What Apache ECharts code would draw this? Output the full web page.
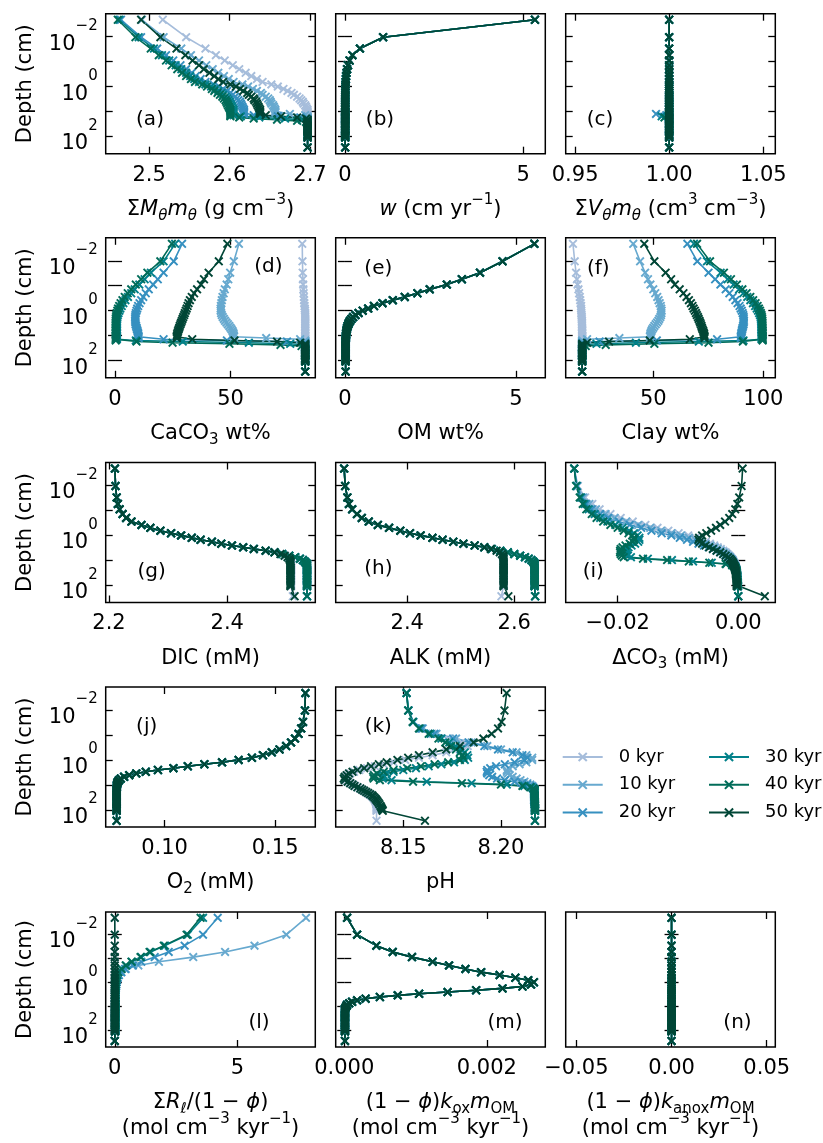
<!DOCTYPE html>
<html>
<head>
<meta charset="utf-8">
<script src="https://cdn.jsdelivr.net/npm/echarts@6/dist/echarts.min.js"></script>
<style>
html, body { margin: 0; padding: 0; background: #fff; }
#chart { width: 823px; height: 1143px; }
</style>
</head>
<body>
<div id="chart"></div>
<script>
// Depth grid of the sediment column (cm)
const DEPTH = [
  0.0021, 0.0105, 0.03, 0.055, 0.09, 0.14, 0.2, 0.28, 0.38, 0.5,
  0.65, 0.82, 1.0, 1.25, 1.5, 1.8, 2.15, 2.55, 3.0, 3.5,
  4.1, 4.8, 5.6, 6.5, 7.5, 8.6, 9.8, 11.1, 12.5, 14,
  15.6, 17.3, 19.2, 21.3, 23.6, 26.1, 29, 32.5, 36.5, 41,
  46, 52, 60, 70, 80, 90, 100, 110, 275];

const TIMES = ['0 kyr', '10 kyr', '20 kyr', '30 kyr', '40 kyr', '50 kyr'];
const COLORS = ['#a6bddb', '#67a9cf', '#3690c0', '#02818a', '#016c59', '#014636'];

// (a) bulk solid density, g cm-3
const RHO_0 = [
  2.517, 2.546, 2.570, 2.583, 2.594, 2.604, 2.612, 2.620, 2.627, 2.634,
  2.641, 2.652, 2.660, 2.667, 2.672, 2.677, 2.680, 2.684, 2.687, 2.689,
  2.691, 2.692, 2.694, 2.695, 2.696, 2.697, 2.697, 2.697, 2.697, 2.697,
  2.697, 2.697, 2.697, 2.697, 2.697, 2.697, 2.697, 2.697, 2.697, 2.697,
  2.697, 2.697, 2.697, 2.697, 2.697, 2.697, 2.697, 2.697, 2.697];
const RHO_10 = [
  2.491, 2.518, 2.540, 2.552, 2.562, 2.571, 2.579, 2.586, 2.593, 2.599,
  2.605, 2.616, 2.623, 2.629, 2.634, 2.639, 2.641, 2.645, 2.648, 2.650,
  2.651, 2.652, 2.654, 2.655, 2.656, 2.657, 2.657, 2.657, 2.675, 2.694,
  2.697, 2.697, 2.697, 2.697, 2.697, 2.697, 2.697, 2.697, 2.697, 2.697,
  2.697, 2.697, 2.697, 2.697, 2.697, 2.697, 2.697, 2.697, 2.697];
const RHO_20 = [
  2.465, 2.490, 2.510, 2.521, 2.530, 2.539, 2.546, 2.553, 2.558, 2.564,
  2.570, 2.580, 2.587, 2.592, 2.597, 2.601, 2.604, 2.607, 2.609, 2.611,
  2.613, 2.614, 2.615, 2.616, 2.617, 2.618, 2.618, 2.618, 2.618, 2.630,
  2.660, 2.688, 2.697, 2.697, 2.697, 2.697, 2.697, 2.697, 2.697, 2.697,
  2.697, 2.697, 2.697, 2.697, 2.697, 2.697, 2.697, 2.697, 2.697];
const RHO_30 = [
  2.463, 2.487, 2.506, 2.516, 2.525, 2.533, 2.540, 2.546, 2.551, 2.556,
  2.562, 2.570, 2.577, 2.582, 2.586, 2.590, 2.592, 2.595, 2.597, 2.599,
  2.600, 2.601, 2.602, 2.603, 2.604, 2.605, 2.605, 2.605, 2.605, 2.605,
  2.614, 2.637, 2.669, 2.690, 2.697, 2.697, 2.697, 2.697, 2.697, 2.697,
  2.697, 2.697, 2.697, 2.697, 2.697, 2.697, 2.697, 2.697, 2.697];
const RHO_40 = [
  2.461, 2.483, 2.502, 2.512, 2.521, 2.528, 2.535, 2.541, 2.546, 2.552,
  2.557, 2.566, 2.572, 2.578, 2.581, 2.585, 2.588, 2.591, 2.593, 2.595,
  2.596, 2.597, 2.598, 2.599, 2.600, 2.601, 2.601, 2.601, 2.601, 2.601,
  2.601, 2.612, 2.630, 2.659, 2.684, 2.695, 2.697, 2.697, 2.697, 2.697,
  2.697, 2.697, 2.697, 2.697, 2.697, 2.697, 2.697, 2.697, 2.697];
const RHO_50 = [
  2.490, 2.514, 2.534, 2.545, 2.554, 2.562, 2.568, 2.575, 2.581, 2.586,
  2.592, 2.601, 2.608, 2.613, 2.617, 2.622, 2.624, 2.627, 2.630, 2.631,
  2.633, 2.634, 2.635, 2.636, 2.637, 2.638, 2.638, 2.638, 2.638, 2.645,
  2.664, 2.684, 2.695, 2.697, 2.697, 2.697, 2.697, 2.697, 2.697, 2.697,
  2.697, 2.697, 2.697, 2.697, 2.697, 2.697, 2.697, 2.697, 2.697];

// (b) burial velocity, cm yr-1 (same at every time slice)
const BURIAL_W = [
  5.33, 1.07, 0.42, 0.21, 0.13, 0.085, 0.06, 0.043, 0.032, 0.025,
  0.02, 0.016, 0.014, 0.012, 0.011, 0.01, 0.009, 0.008, 0.008, 0.008,
  0.008, 0.008, 0.008, 0.008, 0.008, 0.008, 0.008, 0.008, 0.008, 0.008,
  0.007, 0.007, 0.007, 0.007, 0.007, 0.007, 0.007, 0.007, 0.007, 0.007,
  0.007, 0.007, 0.007, 0.007, 0.007, 0.007, 0.007, 0.007, 0.007];

// (c) total solid volume fraction
const VOL_BASE = [
  1, 1, 1, 1, 1, 1, 1, 1, 1, 1,
  1, 1, 1, 1, 1, 1, 1, 1, 1, 1,
  1, 1, 1, 1, 1, 1, 1, 1, 1, 1,
  1, 1, 1, 1, 1, 1, 1, 1, 1, 1,
  1, 1, 1, 1, 1, 1, 1, 1, 1];
const VOL_20 = [
  1, 1, 1, 1, 1, 1, 1, 1, 1, 1,
  1, 1, 1, 1, 1, 1, 1, 1, 1, 1,
  1, 1, 1, 1, 1, 1, 1, 1, 0.993, 0.9985,
  1, 1, 1, 1, 1, 1, 1, 1, 1, 1,
  1, 1, 1, 1, 1, 1, 1, 1, 1];
const VOL_30 = [
  1, 1, 1, 1, 1, 1, 1, 1, 1, 1,
  1, 1, 1, 1, 1, 1, 1, 1, 1, 1,
  1, 1, 1, 1, 1, 1, 1, 1, 1, 1,
  0.996, 1, 1, 1, 1, 1, 1, 1, 1, 1,
  1, 1, 1, 1, 1, 1, 1, 1, 1];
const VOL_40 = [
  1, 1, 1, 1, 1, 1, 1, 1, 1, 1,
  1, 1, 1, 1, 1, 1, 1, 1, 1, 1,
  1, 1, 1, 1, 1, 1, 1, 1, 1, 1,
  1, 0.9975, 1, 1, 1, 1, 1, 1, 1, 1,
  1, 1, 1, 1, 1, 1, 1, 1, 1];

// (d) CaCO3 wt%
const CACO3_0 = [
  81.0, 81.1, 81.2, 81.3, 81.4, 81.5, 81.6, 81.7, 81.8, 81.9,
  82.0, 82.1, 82.2, 82.3, 82.3, 82.3, 82.3, 82.3, 82.3, 82.3,
  82.3, 82.3, 82.3, 82.3, 82.3, 82.3, 82.3, 82.3, 82.3, 82.3,
  82.3, 82.3, 82.3, 82.3, 82.3, 82.3, 82.3, 82.3, 82.3, 82.3,
  82.3, 82.3, 82.3, 82.3, 82.3, 82.3, 82.3, 82.3, 82.3];
const CACO3_10 = [
  53.6, 51.4, 49.8, 49.0, 48.3, 47.5, 47.0, 46.5, 46.2, 46.0,
  45.8, 45.7, 45.7, 45.9, 46.2, 46.6, 47.1, 47.6, 48.2, 48.8,
  49.4, 49.9, 50.4, 50.8, 51.1, 51.3, 51.4, 51.5, 65.4, 80.1,
  82.3, 82.3, 82.3, 82.3, 82.3, 82.3, 82.3, 82.3, 82.3, 82.3,
  82.3, 82.3, 82.3, 82.3, 82.3, 82.3, 82.3, 82.3, 82.3];
const CACO3_20 = [
  29.0, 25.4, 21.0, 18.5, 16.5, 14.6, 13.3, 12.2, 11.3, 10.6,
  10.0, 9.6, 9.3, 9.0, 8.8, 8.7, 8.7, 8.7, 8.8, 8.9,
  9.1, 9.3, 9.5, 9.7, 9.9, 10.0, 10.1, 10.2, 10.2, 21.0,
  48.4, 74.4, 82.3, 82.3, 82.3, 82.3, 82.3, 82.3, 82.3, 82.3,
  82.3, 82.3, 82.3, 82.3, 82.3, 82.3, 82.3, 82.3, 82.3];
const CACO3_30 = [
  26.0, 21.0, 15.5, 12.8, 10.5, 8.5, 7.0, 5.6, 4.5, 3.6,
  2.9, 2.3, 1.9, 1.5, 1.2, 1.0, 0.9, 0.8, 0.8, 0.8,
  0.8, 0.8, 0.8, 0.8, 0.8, 0.8, 0.8, 0.8, 0.8, 0.8,
  9.0, 29.3, 57.9, 75.8, 82.3, 82.3, 82.3, 82.3, 82.3, 82.3,
  82.3, 82.3, 82.3, 82.3, 82.3, 82.3, 82.3, 82.3, 82.3];
const CACO3_40 = [
  24.6, 19.6, 14.0, 11.3, 9.0, 7.0, 5.5, 4.2, 3.2, 2.4,
  1.8, 1.3, 1.0, 0.7, 0.5, 0.4, 0.3, 0.3, 0.3, 0.3,
  0.3, 0.3, 0.3, 0.3, 0.3, 0.3, 0.3, 0.3, 0.3, 0.3,
  0.3, 9.3, 24.9, 49.5, 71.6, 80.7, 82.3, 82.3, 82.3, 82.3,
  82.3, 82.3, 82.3, 82.3, 82.3, 82.3, 82.3, 82.3, 82.3];
const CACO3_50 = [
  48.6, 44.9, 40.5, 38.5, 37.2, 35.5, 34.2, 33.2, 32.4, 31.8,
  31.4, 31.0, 30.6, 30.2, 29.9, 29.5, 29.2, 28.9, 28.6, 28.3,
  28.0, 27.8, 27.5, 27.3, 27.1, 26.9, 26.8, 26.7, 26.7, 33.4,
  51.7, 70.1, 80.1, 82.3, 82.3, 82.3, 82.3, 82.3, 82.3, 82.3,
  82.3, 82.3, 82.3, 82.3, 82.3, 82.3, 82.3, 82.3, 82.3];

// (e) organic matter wt% (same at every time slice)
const OM_WT = [
  5.54, 4.61, 3.95, 3.42, 2.98, 2.48, 2.12, 1.75, 1.40, 1.10,
  0.85, 0.68, 0.52, 0.40, 0.31, 0.24, 0.19, 0.15, 0.12, 0.10,
  0.08, 0.065, 0.055, 0.045, 0.04, 0.035, 0.03, 0.03, 0.025, 0.02,
  0.02, 0.02, 0.02, 0.02, 0.02, 0.02, 0.02, 0.02, 0.02, 0.02,
  0.02, 0.02, 0.02, 0.02, 0.02, 0.02, 0.02, 0.02, 0.02];

// (f) clay wt%
const CLAY_0 = [
  13.5, 14.3, 14.9, 15.3, 15.6, 16.0, 16.3, 16.6, 16.8, 17.0,
  17.2, 17.2, 17.3, 17.3, 17.4, 17.5, 17.5, 17.6, 17.6, 17.6,
  17.6, 17.6, 17.7, 17.7, 17.7, 17.7, 17.7, 17.7, 17.7, 17.7,
  17.7, 17.7, 17.7, 17.7, 17.7, 17.7, 17.7, 17.7, 17.7, 17.7,
  17.7, 17.7, 17.7, 17.7, 17.7, 17.7, 17.7, 17.7, 17.7];
const CLAY_10 = [
  40.9, 44.0, 46.3, 47.6, 48.7, 50.0, 50.9, 51.8, 52.4, 52.9,
  53.4, 53.6, 53.8, 53.7, 53.5, 53.2, 52.7, 52.3, 51.7, 51.1,
  50.5, 50.0, 49.5, 49.2, 48.9, 48.7, 48.6, 48.5, 34.6, 19.9,
  17.7, 17.7, 17.7, 17.7, 17.7, 17.7, 17.7, 17.7, 17.7, 17.7,
  17.7, 17.7, 17.7, 17.7, 17.7, 17.7, 17.7, 17.7, 17.7];
const CLAY_20 = [
  65.5, 70.0, 75.1, 78.1, 80.5, 82.9, 84.6, 86.1, 87.3, 88.3,
  89.2, 89.7, 90.2, 90.6, 90.9, 91.1, 91.1, 91.2, 91.1, 91.0,
  90.8, 90.6, 90.4, 90.3, 90.1, 90.0, 89.9, 89.8, 89.8, 79.0,
  51.6, 25.6, 17.7, 17.7, 17.7, 17.7, 17.7, 17.7, 17.7, 17.7,
  17.7, 17.7, 17.7, 17.7, 17.7, 17.7, 17.7, 17.7, 17.7];
const CLAY_30 = [
  68.5, 74.4, 80.6, 83.8, 86.5, 89.0, 90.9, 92.7, 94.1, 95.3,
  96.3, 97.0, 97.6, 98.1, 98.5, 98.8, 98.9, 99.0, 99.1, 99.1,
  99.1, 99.1, 99.1, 99.2, 99.2, 99.2, 99.2, 99.2, 99.2, 99.2,
  91.0, 70.7, 42.1, 24.2, 17.7, 17.7, 17.7, 17.7, 17.7, 17.7,
  17.7, 17.7, 17.7, 17.7, 17.7, 17.7, 17.7, 17.7, 17.7];
const CLAY_40 = [
  69.9, 75.8, 82.1, 85.3, 88.0, 90.5, 92.4, 94.1, 95.4, 96.5,
  97.4, 98.0, 98.5, 98.9, 99.2, 99.4, 99.5, 99.6, 99.6, 99.6,
  99.6, 99.6, 99.6, 99.7, 99.7, 99.7, 99.7, 99.7, 99.7, 99.7,
  99.7, 90.7, 75.1, 50.5, 28.4, 19.3, 17.7, 17.7, 17.7, 17.7,
  17.7, 17.7, 17.7, 17.7, 17.7, 17.7, 17.7, 17.7, 17.7];
const CLAY_50 = [
  45.9, 50.5, 55.6, 58.1, 59.8, 62.0, 63.7, 65.1, 66.2, 67.1,
  67.8, 68.3, 68.9, 69.4, 69.8, 70.3, 70.6, 71.0, 71.3, 71.6,
  71.9, 72.1, 72.4, 72.7, 72.9, 73.1, 73.2, 73.3, 73.3, 66.6,
  48.4, 29.9, 19.9, 17.7, 17.7, 17.7, 17.7, 17.7, 17.7, 17.7,
  17.7, 17.7, 17.7, 17.7, 17.7, 17.7, 17.7, 17.7, 17.7];

// (g) dissolved inorganic carbon, mM
const DIC_0 = [
  2.210, 2.211, 2.213, 2.215, 2.218, 2.223, 2.229, 2.238, 2.255, 2.270,
  2.287, 2.305, 2.322, 2.340, 2.355, 2.374, 2.390, 2.408, 2.427, 2.445,
  2.465, 2.480, 2.490, 2.498, 2.503, 2.506, 2.507, 2.508, 2.508, 2.508,
  2.508, 2.508, 2.508, 2.508, 2.508, 2.508, 2.508, 2.508, 2.508, 2.508,
  2.508, 2.508, 2.508, 2.508, 2.508, 2.508, 2.508, 2.508, 2.511];
const DIC_MID = [
  2.210, 2.211, 2.213, 2.215, 2.218, 2.223, 2.229, 2.238, 2.255, 2.270,
  2.287, 2.305, 2.322, 2.340, 2.355, 2.374, 2.390, 2.408, 2.427, 2.445,
  2.465, 2.480, 2.493, 2.505, 2.515, 2.523, 2.528, 2.531, 2.533, 2.535,
  2.535, 2.535, 2.535, 2.535, 2.535, 2.535, 2.535, 2.535, 2.535, 2.535,
  2.535, 2.535, 2.535, 2.535, 2.535, 2.535, 2.535, 2.535, 2.535];
const DIC_50 = [
  2.210, 2.211, 2.213, 2.215, 2.218, 2.223, 2.229, 2.238, 2.255, 2.270,
  2.287, 2.305, 2.322, 2.340, 2.355, 2.374, 2.390, 2.408, 2.427, 2.445,
  2.465, 2.480, 2.490, 2.497, 2.502, 2.505, 2.506, 2.507, 2.507, 2.507,
  2.507, 2.507, 2.507, 2.507, 2.507, 2.507, 2.507, 2.507, 2.507, 2.507,
  2.507, 2.507, 2.507, 2.507, 2.507, 2.507, 2.507, 2.507, 2.514];

// (h) alkalinity, mM
const ALK_0 = [
  2.282, 2.284, 2.288, 2.291, 2.297, 2.306, 2.315, 2.328, 2.345, 2.366,
  2.387, 2.405, 2.425, 2.447, 2.466, 2.486, 2.505, 2.526, 2.544, 2.556,
  2.567, 2.573, 2.577, 2.579, 2.580, 2.580, 2.580, 2.580, 2.580, 2.580,
  2.580, 2.580, 2.580, 2.580, 2.580, 2.580, 2.580, 2.580, 2.580, 2.580,
  2.580, 2.580, 2.580, 2.580, 2.580, 2.580, 2.580, 2.580, 2.576];
const ALK_MID = [
  2.282, 2.284, 2.288, 2.291, 2.297, 2.306, 2.315, 2.328, 2.345, 2.366,
  2.387, 2.405, 2.425, 2.447, 2.466, 2.486, 2.505, 2.526, 2.544, 2.558,
  2.574, 2.588, 2.600, 2.611, 2.620, 2.627, 2.632, 2.635, 2.637, 2.638,
  2.638, 2.638, 2.638, 2.638, 2.638, 2.638, 2.638, 2.638, 2.638, 2.638,
  2.638, 2.638, 2.638, 2.638, 2.638, 2.638, 2.638, 2.638, 2.639];
const ALK_50 = [
  2.282, 2.284, 2.288, 2.291, 2.297, 2.306, 2.315, 2.328, 2.345, 2.366,
  2.387, 2.405, 2.425, 2.447, 2.466, 2.486, 2.505, 2.526, 2.544, 2.556,
  2.567, 2.573, 2.577, 2.579, 2.580, 2.580, 2.580, 2.580, 2.580, 2.580,
  2.580, 2.580, 2.580, 2.580, 2.580, 2.580, 2.580, 2.580, 2.580, 2.580,
  2.580, 2.580, 2.580, 2.580, 2.580, 2.580, 2.580, 2.580, 2.589];

// (i) carbonate saturation offset, mM
const DCO3_0 = [
  -0.0272, -0.0266, -0.0254, -0.0242, -0.0230, -0.0212, -0.0195, -0.0175, -0.0154, -0.0134,
  -0.0116, -0.0099, -0.0083, -0.0071, -0.0062, -0.0054, -0.0047, -0.0040, -0.0034, -0.0029,
  -0.0025, -0.0021, -0.0018, -0.0015, -0.0013, -0.0011, -0.0009, -0.0008, -0.0007, -0.0006,
  -0.0005, -0.00045, -0.0004, -0.00035, -0.0003, -0.00028, -0.00025, -0.00022, -0.0002, -0.00018,
  -0.00015, -0.00013, -0.00011, -0.0001, -0.00008, -0.00007, -0.00006, -0.00005, 0.0];
const DCO3_10 = [
  -0.0272, -0.0267, -0.0257, -0.0247, -0.0236, -0.0220, -0.0205, -0.0186, -0.0166, -0.0146,
  -0.0128, -0.0111, -0.0095, -0.0082, -0.0071, -0.0062, -0.0054, -0.0046, -0.0039, -0.0034,
  -0.0029, -0.0024, -0.0020, -0.0017, -0.0014, -0.0012, -0.0010, -0.0009, -0.0008, -0.0007,
  -0.0006, -0.0005, -0.00045, -0.0004, -0.00035, -0.0003, -0.00028, -0.00025, -0.00022, -0.0002,
  -0.00017, -0.00015, -0.00013, -0.00011, -0.0001, -0.00008, -0.00007, -0.00006, 0.0];
const DCO3_20 = [
  -0.0272, -0.0268, -0.0260, -0.0252, -0.0243, -0.0229, -0.0216, -0.0198, -0.0180, -0.0161,
  -0.0144, -0.0127, -0.0111, -0.0097, -0.0085, -0.0075, -0.0066, -0.0057, -0.0049, -0.0042,
  -0.0036, -0.0030, -0.0025, -0.0021, -0.0017, -0.0014, -0.0012, -0.0010, -0.0009, -0.0008,
  -0.0007, -0.0006, -0.0005, -0.00045, -0.0004, -0.00035, -0.0003, -0.00027, -0.00024, -0.00021,
  -0.00018, -0.00016, -0.00014, -0.00012, -0.0001, -0.00009, -0.00008, -0.00007, 0.0];
const DCO3_30 = [
  -0.0272, -0.0268, -0.0261, -0.0255, -0.0248, -0.0238, -0.0229, -0.0217, -0.0204, -0.0192,
  -0.0181, -0.0173, -0.0167, -0.0164, -0.0164, -0.0166, -0.0171, -0.0177, -0.0182, -0.0185,
  -0.0186, -0.0186, -0.0185, -0.0183, -0.0178, -0.0150, -0.0110, -0.0075, -0.0044, -0.0020,
  -0.0010, -0.0006, -0.00045, -0.0004, -0.00035, -0.0003, -0.00027, -0.00024, -0.00021, -0.00019,
  -0.00017, -0.00015, -0.00013, -0.00011, -0.0001, -0.00009, -0.00008, -0.00007, 0.0];
const DCO3_40 = [
  -0.0272, -0.0269, -0.0263, -0.0258, -0.0252, -0.0243, -0.0235, -0.0224, -0.0212, -0.0200,
  -0.0190, -0.0182, -0.0176, -0.0173, -0.0173, -0.0175, -0.0180, -0.0187, -0.0192, -0.0195,
  -0.0196, -0.0196, -0.0195, -0.0193, -0.0190, -0.0158, -0.0118, -0.0082, -0.0048, -0.0021,
  -0.0010, -0.0006, -0.00045, -0.0004, -0.00035, -0.0003, -0.00027, -0.00024, -0.00021, -0.00019,
  -0.00017, -0.00015, -0.00013, -0.00011, -0.0001, -0.00009, -0.00008, -0.00007, 0.0];
const DCO3_50 = [
  0.00072, 0.00055, 0.00015, -0.00015, -0.0005, -0.0010, -0.0015, -0.0022, -0.0030, -0.0037,
  -0.0045, -0.0053, -0.0060, -0.0065, -0.0066, -0.0064, -0.0060, -0.0054, -0.0048, -0.0042,
  -0.0036, -0.0030, -0.0025, -0.0021, -0.0017, -0.0014, -0.0012, -0.0010, -0.0009, -0.0008,
  -0.0007, -0.00065, -0.0006, -0.00055, -0.0005, -0.00045, -0.00042, -0.0004, -0.00038, -0.00035,
  -0.00033, -0.0003, -0.0003, -0.00028, -0.00027, -0.00026, -0.00025, -0.00025, 0.0044];

// (j) dissolved oxygen, mM (same at every time slice)
const O2_MM = [
  0.1637, 0.1635, 0.1626, 0.1618, 0.1606, 0.1590, 0.1572, 0.1550, 0.1520, 0.1485,
  0.1445, 0.1395, 0.1335, 0.1260, 0.1180, 0.1105, 0.1040, 0.0970, 0.0915, 0.0872,
  0.0840, 0.0817, 0.0802, 0.0794, 0.0789, 0.0786, 0.0785, 0.0784, 0.0784, 0.0783,
  0.0783, 0.0783, 0.0783, 0.0783, 0.0783, 0.0783, 0.0783, 0.0783, 0.0783, 0.0783,
  0.0783, 0.0783, 0.0783, 0.0783, 0.0783, 0.0783, 0.0783, 0.0783, 0.0783];

// (k) porewater pH
const PH_0 = [
  8.1517, 8.1525, 8.1550, 8.1590, 8.1650, 8.1730, 8.1800, 8.1830, 8.1790, 8.1720,
  8.1650, 8.1580, 8.1510, 8.1450, 8.1400, 8.1355, 8.1315, 8.1275, 8.1248, 8.1228,
  8.1215, 8.1205, 8.1200, 8.1205, 8.1218, 8.1230, 8.1242, 8.1254, 8.1266, 8.1278,
  8.1288, 8.1298, 8.1308, 8.1317, 8.1326, 8.1334, 8.1340, 8.1346, 8.1351, 8.1355,
  8.1358, 8.1360, 8.1362, 8.1363, 8.1363, 8.1363, 8.1363, 8.1363, 8.1363];
const PH_10 = [
  8.1517, 8.1527, 8.1552, 8.1600, 8.1670, 8.1770, 8.1850, 8.1930, 8.2000, 8.2080,
  8.2130, 8.2160, 8.2160, 8.2130, 8.2095, 8.2060, 8.2040, 8.2030, 8.2030, 8.2035,
  8.2045, 8.2060, 8.2080, 8.2100, 8.2120, 8.2135, 8.2150, 8.2160, 8.2165, 8.2168,
  8.2170, 8.2170, 8.2170, 8.2170, 8.2170, 8.2170, 8.2170, 8.2170, 8.2170, 8.2170,
  8.2172, 8.2172, 8.2173, 8.2173, 8.2174, 8.2174, 8.2174, 8.2174, 8.2174];
const PH_20 = [
  8.1517, 8.1527, 8.1550, 8.1595, 8.1660, 8.1755, 8.1835, 8.1915, 8.1985, 8.2060,
  8.2110, 8.2135, 8.2120, 8.2070, 8.2020, 8.1975, 8.1945, 8.1930, 8.1927, 8.1930,
  8.1940, 8.1955, 8.1980, 8.2020, 8.2070, 8.2110, 8.2135, 8.2150, 8.2160, 8.2165,
  8.2170, 8.2170, 8.2170, 8.2170, 8.2170, 8.2170, 8.2170, 8.2170, 8.2170, 8.2170,
  8.2172, 8.2172, 8.2173, 8.2173, 8.2174, 8.2174, 8.2174, 8.2174, 8.2174];
const PH_30 = [
  8.1517, 8.1526, 8.1550, 8.1585, 8.1640, 8.1695, 8.1735, 8.1768, 8.1795, 8.1815,
  8.1828, 8.1832, 8.1815, 8.1760, 8.1695, 8.1630, 8.1565, 8.1500, 8.1450, 8.1415,
  8.1398, 8.1392, 8.1395, 8.1440, 8.1620, 8.1850, 8.2030, 8.2120, 8.2155, 8.2167,
  8.2172, 8.2172, 8.2172, 8.2172, 8.2172, 8.2172, 8.2172, 8.2172, 8.2172, 8.2172,
  8.2173, 8.2173, 8.2174, 8.2174, 8.2174, 8.2174, 8.2174, 8.2174, 8.2174];
const PH_40 = [
  8.1517, 8.1525, 8.1548, 8.1580, 8.1630, 8.1680, 8.1715, 8.1745, 8.1770, 8.1790,
  8.1803, 8.1808, 8.1790, 8.1730, 8.1660, 8.1590, 8.1520, 8.1450, 8.1400, 8.1365,
  8.1350, 8.1345, 8.1348, 8.1380, 8.1550, 8.1800, 8.2000, 8.2110, 8.2150, 8.2165,
  8.2172, 8.2172, 8.2172, 8.2172, 8.2172, 8.2172, 8.2172, 8.2172, 8.2172, 8.2172,
  8.2173, 8.2173, 8.2174, 8.2174, 8.2174, 8.2174, 8.2174, 8.2174, 8.2174];
const PH_50 = [
  8.2029, 8.2018, 8.2003, 8.1985, 8.1952, 8.1910, 8.1860, 8.1790, 8.1720, 8.1650,
  8.1580, 8.1525, 8.1470, 8.1415, 8.1375, 8.1335, 8.1300, 8.1265, 8.1240, 8.1222,
  8.1210, 8.1200, 8.1195, 8.1200, 8.1215, 8.1228, 8.1240, 8.1250, 8.1265, 8.1280,
  8.1290, 8.1300, 8.1310, 8.1320, 8.1330, 8.1340, 8.1345, 8.1352, 8.1358, 8.1363,
  8.1368, 8.1373, 8.1378, 8.1383, 8.1387, 8.1390, 8.1393, 8.1395, 8.1611];

// (l) total CaCO3 dissolution rate, mol cm-3 kyr-1
const DISS_ZERO = [
  0, 0, 0, 0, 0, 0, 0, 0, 0, 0,
  0, 0, 0, 0, 0, 0, 0, 0, 0, 0,
  0, 0, 0, 0, 0, 0, 0, 0, 0, 0,
  0, 0, 0, 0, 0, 0, 0, 0, 0, 0,
  0, 0, 0, 0, 0, 0, 0, 0, 0];
const DISS_10 = [
  7.8, 7.0, 5.7, 4.5, 3.2, 1.8, 0.96, 0.45, 0.25, 0.15,
  0.11, 0.09, 0.07, 0.06, 0.05, 0.04, 0.035, 0.03, 0.03, 0.03,
  0.025, 0.025, 0.025, 0.025, 0.025, 0.025, 0.025, 0.025, 0.025, 0.025,
  0.02, 0.02, 0.02, 0.02, 0.02, 0.02, 0.02, 0.02, 0.02, 0.02,
  0.02, 0.02, 0.02, 0.02, 0.02, 0.02, 0.02, 0.02, 0];
const DISS_20 = [
  4.2, 3.6, 2.85, 2.2, 1.63, 1.08, 0.74, 0.42, 0.27, 0.17,
  0.12, 0.09, 0.07, 0.06, 0.05, 0.04, 0.035, 0.03, 0.03, 0.03,
  0.025, 0.025, 0.025, 0.025, 0.025, 0.025, 0.025, 0.025, 0.025, 0.025,
  0.02, 0.02, 0.02, 0.02, 0.02, 0.02, 0.02, 0.02, 0.02, 0.02,
  0.02, 0.02, 0.02, 0.02, 0.02, 0.02, 0.02, 0.02, 0];
const DISS_30 = [
  3.6, 2.98, 2.05, 1.46, 1.08, 0.70, 0.46, 0.28, 0.15, 0.10,
  0.07, 0.06, 0.05, 0.04, 0.035, 0.03, 0.03, 0.03, 0.025, 0.025,
  0.025, 0.025, 0.025, 0.025, 0.025, 0.025, 0.025, 0.025, 0.025, 0.025,
  0.02, 0.02, 0.02, 0.02, 0.02, 0.02, 0.02, 0.02, 0.02, 0.02,
  0.02, 0.02, 0.02, 0.02, 0.02, 0.02, 0.02, 0.02, 0];
const DISS_40 = [
  3.5, 2.93, 2.0, 1.42, 1.05, 0.68, 0.45, 0.27, 0.14, 0.09,
  0.07, 0.06, 0.05, 0.04, 0.035, 0.03, 0.03, 0.03, 0.025, 0.025,
  0.025, 0.025, 0.025, 0.025, 0.025, 0.025, 0.025, 0.025, 0.025, 0.025,
  0.02, 0.02, 0.02, 0.02, 0.02, 0.02, 0.02, 0.02, 0.02, 0.02,
  0.02, 0.02, 0.02, 0.02, 0.02, 0.02, 0.02, 0.02, 0];

// (m) oxic OM degradation rate, mol cm-3 kyr-1 (same at every time slice)
const OXIC_RATE = [
  0.00004, 0.00018, 0.00045, 0.00068, 0.00095, 0.00124, 0.00147, 0.00170, 0.00192, 0.00218,
  0.00240, 0.00258, 0.00266, 0.00262, 0.00250, 0.00222, 0.00185, 0.00145, 0.00105, 0.00075,
  0.00050, 0.00030, 0.00018, 0.00011, 0.00007, 0.00004, 0.00003, 0.00002, 0.00001, 0.00001,
  0.00001, 0.00001, 0.00001, 0.00001, 0.00001, 0.00001, 0.00001, 0.00001, 0.00001, 0.00001,
  0.00001, 0.00001, 0.00001, 0.00001, 0.00001, 0.00001, 0.00001, 0.00001, 0.00001];

// (n) anoxic OM degradation rate (zero everywhere)
const ANOXIC_RATE = DISS_ZERO;

// Tick positions of each x axis
const TICKS_A = [2.5, 2.6, 2.7];
const TICKS_B = [0, 5];
const TICKS_C = [0.95, 1.0, 1.05];
const TICKS_D = [0, 50];
const TICKS_E = [0, 5];
const TICKS_F = [50, 100];
const TICKS_G = [2.2, 2.4];
const TICKS_H = [2.4, 2.6];
const TICKS_I = [-0.02, 0.0];
const TICKS_J = [0.10, 0.15];
const TICKS_K = [8.15, 8.20];
const TICKS_L = [0, 5];
const TICKS_M = [0.0, 0.002];
const TICKS_N = [-0.05, 0.0, 0.05];
const DEPTH_TICKS = [0.01, 0.1, 1, 10, 100];
const DEPTH_LABELS = [0.01, 1, 100];

// ---- layout ----
const FONT = 'DejaVu Sans';
const COL_LEFT = [105.7, 335.7, 565.7];
const ROW_TOP = [13.7, 237.8, 462.5, 687, 912];
const PANEL_W = 209.6, PANEL_H = 140;
const DEPTH_RANGE = [0.0012, 490];
const UNIT_LINE = '{b|(mol cm}{sp|−3}{b| kyr}{sp|−1}{b|)}';

const PANELS = [
  { tag: '(a)', row: 0, col: 0, range: [2.446, 2.7066], ticks: TICKS_A, dec: 1, tagPos: [44.3, 106.3],
    name: '{b|Σ}{i|M}{si|θ}{i|m}{si|θ}{b| (g cm}{sp|−3}{b|)}',
    profiles: [RHO_0, RHO_10, RHO_20, RHO_30, RHO_40, RHO_50] },
  { tag: '(b)', row: 0, col: 1, range: [-0.26, 5.62], ticks: TICKS_B, dec: 0, tagPos: [44.3, 106.3],
    name: '{i|w}{b| (cm yr}{sp|−1}{b|)}',
    profiles: [BURIAL_W, BURIAL_W, BURIAL_W, BURIAL_W, BURIAL_W, BURIAL_W] },
  { tag: '(c)', row: 0, col: 2, range: [0.945, 1.0564], ticks: TICKS_C, dec: 2, tagPos: [34.3, 106.3],
    name: '{b|Σ}{i|V}{si|θ}{i|m}{si|θ}{b| (cm}{sp|3}{b| cm}{sp|−3}{b|)}',
    profiles: [VOL_BASE, VOL_BASE, VOL_20, VOL_30, VOL_40, VOL_BASE] },
  { tag: '(d)', row: 1, col: 0, range: [-4.04, 86.65], ticks: TICKS_D, dec: 0, tagPos: [162.6, 28.9],
    name: '{b|CaCO}{sb|3}{b| wt%}',
    profiles: [CACO3_0, CACO3_10, CACO3_20, CACO3_30, CACO3_40, CACO3_50] },
  { tag: '(e)', row: 1, col: 1, range: [-0.27, 5.86], ticks: TICKS_E, dec: 0, tagPos: [42.6, 30.5],
    name: '{b|OM wt%}',
    profiles: [OM_WT, OM_WT, OM_WT, OM_WT, OM_WT, OM_WT] },
  { tag: '(f)', row: 1, col: 2, range: [10.2, 105.45], ticks: TICKS_F, dec: 0, tagPos: [32.6, 30.5],
    name: '{b|Clay wt%}',
    profiles: [CLAY_0, CLAY_10, CLAY_20, CLAY_30, CLAY_40, CLAY_50] },
  { tag: '(g)', row: 2, col: 0, range: [2.1944, 2.549], ticks: TICKS_G, dec: 1, tagPos: [46, 109.2],
    name: '{b|DIC (mM)}',
    profiles: [DIC_0, DIC_MID, DIC_MID, DIC_MID, DIC_MID, DIC_50] },
  { tag: '(h)', row: 2, col: 1, range: [2.2662, 2.658], ticks: TICKS_H, dec: 1, tagPos: [42.6, 105.8],
    name: '{b|ALK (mM)}',
    profiles: [ALK_0, ALK_MID, ALK_MID, ALK_MID, ALK_MID, ALK_50] },
  { tag: '(i)', row: 2, col: 2, range: [-0.02862, 0.00614], ticks: TICKS_I, dec: 2, tagPos: [27.6, 109.2],
    name: '{b|ΔCO}{sb|3}{b| (mM)}',
    profiles: [DCO3_0, DCO3_10, DCO3_20, DCO3_30, DCO3_40, DCO3_50] },
  { tag: '(j)', row: 3, col: 0, range: [0.07336, 0.16818], ticks: TICKS_J, dec: 2, tagPos: [41, 39.7],
    name: '{b|O}{sb|2}{b| (mM)}',
    profiles: [O2_MM, O2_MM, O2_MM, O2_MM, O2_MM, O2_MM] },
  { tag: '(k)', row: 3, col: 1, range: [8.1154, 8.2227], ticks: TICKS_K, dec: 2, tagPos: [42.6, 39.7],
    name: '{b|pH}',
    profiles: [PH_0, PH_10, PH_20, PH_30, PH_40, PH_50] },
  { tag: '(l)', row: 4, col: 0, range: [-0.37, 8.18], ticks: TICKS_L, dec: 0, tagPos: [153.3, 111],
    name: '{b|Σ}{i|R}{si|ℓ}{b|/(1 − }{i|ϕ}{b|)}\n' + UNIT_LINE,
    profiles: [DISS_ZERO, DISS_10, DISS_20, DISS_30, DISS_40, DISS_ZERO] },
  { tag: '(m)', row: 4, col: 1, range: [-0.00012, 0.00282], ticks: TICKS_M, dec: 3, tagPos: [169.3, 111],
    name: '{b|(1 − }{i|ϕ}{b|)}{i|k}{sb|ox}{i|m}{sb|OM}\n' + UNIT_LINE,
    profiles: [OXIC_RATE, OXIC_RATE, OXIC_RATE, OXIC_RATE, OXIC_RATE, OXIC_RATE] },
  { tag: '(n)', row: 4, col: 2, range: [-0.0556, 0.0545], ticks: TICKS_N, dec: 2, tagPos: [171.8, 111],
    name: '{b|(1 − }{i|ϕ}{b|)}{i|k}{sb|anox}{i|m}{sb|OM}\n' + UNIT_LINE,
    profiles: [ANOXIC_RATE, ANOXIC_RATE, ANOXIC_RATE, ANOXIC_RATE, ANOXIC_RATE, ANOXIC_RATE] }
];

// "x" marker drawn as a filled cross
const X_MARK = 'path://M0,1.5L1.5,0L5,3.5L8.5,0L10,1.5L6.5,5L10,8.5L8.5,10L5,6.5L1.5,10L0,8.5L3.5,5Z';

const NAME_RICH = {
  b: { fontFamily: FONT, fontSize: 21, lineHeight: 26, padding: [4, 0, 0, 0], color: '#000' },
  i: { fontFamily: FONT, fontSize: 21, lineHeight: 26, padding: [4, 0, 0, 0], color: '#000', fontStyle: 'italic' },
  sp: { fontFamily: FONT, fontSize: 15, lineHeight: 15, padding: [0, 0, 15, 0], color: '#000' },
  sb: { fontFamily: FONT, fontSize: 15, lineHeight: 14, padding: [16, 0, 0, 0], color: '#000' },
  si: { fontFamily: FONT, fontSize: 15, lineHeight: 14, padding: [16, 0, 0, 0], color: '#000', fontStyle: 'italic' }
};
const POW_RICH = {
  b: { fontFamily: FONT, fontSize: 21, lineHeight: 21, padding: [15, 0, 0, 0], color: '#000' },
  s: { fontFamily: FONT, fontSize: 15, lineHeight: 15, padding: [0, 0, 21, 0], color: '#000' }
};

function fmtNum(v, dec) {
  const s = Math.abs(v).toFixed(dec);
  return (v < 0 && Number(s) !== 0 ? '−' : '') + s;
}
function fmtPow(v) {
  const e = Math.round(Math.log10(v));
  return '{b|10}{s|' + (e < 0 ? '−' : '') + Math.abs(e) + '}';
}

const grids = [], xAxes = [], yAxes = [], series = [], graphics = [];
const tickStyle = { color: '#000', width: 1.3 };

PANELS.forEach((p, gi) => {
  const left = COL_LEFT[p.col], top = ROW_TOP[p.row];
  grids.push({ left: left, top: top, width: PANEL_W, height: PANEL_H, show: true,
    borderColor: '#000', borderWidth: 1.5, backgroundColor: 'rgba(0,0,0,0)', containLabel: false });

  const xi = xAxes.length;
  xAxes.push({
    gridIndex: gi, type: 'value', position: 'bottom', min: p.range[0], max: p.range[1],
    axisLine: { show: false }, splitLine: { show: false },
    axisTick: { show: true, inside: true, length: 7, lineStyle: tickStyle, customValues: p.ticks },
    axisLabel: { show: true, customValues: p.ticks, margin: 11, color: '#000', fontSize: 21, fontFamily: FONT,
      formatter: v => fmtNum(v, p.dec) },
    name: p.name, nameLocation: 'middle', nameGap: 41,
    nameTextStyle: { color: '#000', fontFamily: FONT, fontSize: 21, rich: NAME_RICH }
  });
  xAxes.push({
    gridIndex: gi, type: 'value', position: 'top', min: p.range[0], max: p.range[1],
    axisLine: { show: false }, splitLine: { show: false },
    axisTick: { show: true, inside: true, length: 7, lineStyle: tickStyle, customValues: p.ticks },
    axisLabel: { show: false }
  });

  const yi = yAxes.length;
  const firstCol = p.col === 0;
  yAxes.push({
    gridIndex: gi, type: 'log', logBase: 10, inverse: true, position: 'left',
    min: DEPTH_RANGE[0], max: DEPTH_RANGE[1],
    axisLine: { show: false }, splitLine: { show: false }, minorTick: { show: false },
    axisTick: { show: true, inside: true, length: 7, lineStyle: tickStyle, customValues: DEPTH_TICKS },
    axisLabel: { show: firstCol, customValues: DEPTH_LABELS, margin: 8, formatter: fmtPow, rich: POW_RICH,
      color: '#000', fontFamily: FONT },
    name: firstCol ? 'Depth (cm)' : '', nameLocation: 'middle', nameGap: 70, nameRotate: 90,
    nameTextStyle: { color: '#000', fontFamily: FONT, fontSize: 21 }
  });
  yAxes.push({
    gridIndex: gi, type: 'log', logBase: 10, inverse: true, position: 'right',
    min: DEPTH_RANGE[0], max: DEPTH_RANGE[1],
    axisLine: { show: false }, splitLine: { show: false }, minorTick: { show: false },
    axisTick: { show: true, inside: true, length: 7, lineStyle: tickStyle, customValues: DEPTH_TICKS },
    axisLabel: { show: false }
  });

  p.profiles.forEach((vals, k) => {
    series.push({
      type: 'line', name: TIMES[k], xAxisIndex: xi, yAxisIndex: yi,
      data: DEPTH.map((z, j) => [vals[j], z]),
      symbol: X_MARK, symbolSize: 9, showSymbol: true, showAllSymbol: true,
      lineStyle: { color: COLORS[k], width: 1.6 },
      itemStyle: { color: COLORS[k] },
      emphasis: { disabled: true }, silent: true, animation: false, clip: true
    });
  });

  graphics.push({
    type: 'text', x: left + p.tagPos[0], y: top + p.tagPos[1], silent: true,
    style: { text: p.tag, fontFamily: FONT, fontSize: 20, fill: '#000', align: 'center', verticalAlign: 'middle' }
  });
});

// legend labels are pushed away from the line-and-marker key with a padded rich token
const legendBase = {
  orient: 'vertical', align: 'left', padding: 0, itemWidth: 40, itemHeight: 12, itemGap: 9.8,
  selectedMode: false,
  formatter: name => '{t|' + name + '}',
  textStyle: {
    fontFamily: FONT, fontSize: 18, color: '#000',
    rich: { t: { fontFamily: FONT, fontSize: 18, lineHeight: 18, color: '#000', padding: [0, 0, 0, 11] } }
  }
};

const chart = echarts.init(document.getElementById('chart'), null, { renderer: 'canvas' });
chart.setOption({
  backgroundColor: '#fff',
  animation: false,
  grid: grids,
  xAxis: xAxes,
  yAxis: yAxes,
  series: series,
  legend: [
    Object.assign({}, legendBase, { data: TIMES.slice(0, 3), left: 561.7, top: 748 }),
    Object.assign({}, legendBase, { data: TIMES.slice(3), left: 708, top: 748 })
  ],
  graphic: graphics
});
</script>
</body>
</html>
